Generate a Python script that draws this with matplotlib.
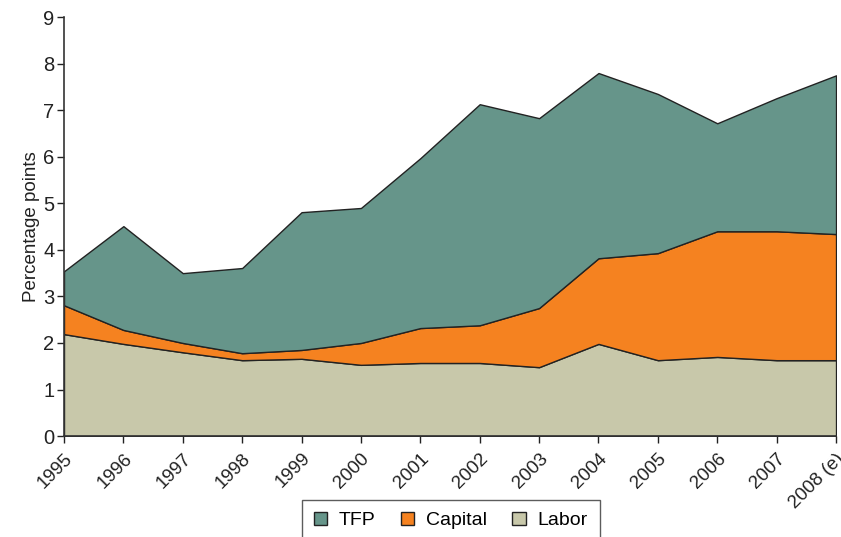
import numpy as np
import matplotlib.pyplot as plt
from matplotlib.patches import Patch

plt.rcParams['font.family'] = ['Liberation Sans', 'DejaVu Sans']

years = ['1995', '1996', '1997', '1998', '1999', '2000', '2001',
         '2002', '2003', '2004', '2005', '2006', '2007', '2008 (e)']
labor = [2.19, 1.98, 1.80, 1.63, 1.66, 1.53, 1.57, 1.57, 1.48, 1.98, 1.63, 1.70, 1.63, 1.63]
capital_top = [2.81, 2.28, 2.00, 1.78, 1.85, 2.00, 2.32, 2.38, 2.75, 3.82, 3.93, 4.40, 4.40, 4.34]
total = [3.54, 4.51, 3.50, 3.61, 4.81, 4.90, 5.97, 7.13, 6.83, 7.80, 7.35, 6.72, 7.26, 7.75]

capital = np.array(capital_top) - np.array(labor)
tfp = np.array(total) - np.array(capital_top)

c_tfp = '#66958a'
c_cap = '#f58220'
c_lab = '#c8c8aa'

fig = plt.figure(figsize=(8.41, 5.37), dpi=100)
ax = fig.add_axes([0.0761, 0.188, 0.918, 0.780])
x = np.arange(len(years))
ax.stackplot(x, labor, capital, tfp, colors=[c_lab, c_cap, c_tfp],
             edgecolor='#222222', linewidth=1.0)

ax.set_xlim(0, len(years) - 1)
ax.set_ylim(0, 9)
ax.set_yticks(range(10))
ax.set_xticks(x)
ax.set_xticklabels(years, rotation=45, ha='right', rotation_mode='anchor')
ax.tick_params(axis='both', colors='#222222', length=5, width=1, direction='out')
ax.tick_params(axis='y', labelsize=14.5, pad=2)
ax.tick_params(axis='x', labelsize=13.5, pad=5)
ax.set_ylabel('Percentage points', fontsize=13.5, color='#222222', labelpad=2)
for s in ['top', 'right']:
    ax.spines[s].set_visible(False)
for s in ['left', 'bottom']:
    ax.spines[s].set_color('#333333')
    ax.spines[s].set_linewidth(1.2)

handles = [Patch(facecolor=c_tfp, edgecolor='#222222', label='TFP'),
           Patch(facecolor=c_cap, edgecolor='#222222', label='Capital'),
           Patch(facecolor=c_lab, edgecolor='#222222', label='Labor')]
leg = fig.legend(handles=handles, ncol=3, loc='upper center',
                 bbox_to_anchor=(0.536, 0.069), fontsize=14, frameon=True,
                 fancybox=False, edgecolor='#333333', handlelength=0.7,
                 handleheight=0.7, columnspacing=1.3, handletextpad=0.6,
                 borderpad=0.6, borderaxespad=0)
leg.get_frame().set_linewidth(1.0)

plt.savefig('out.png', dpi=100)
